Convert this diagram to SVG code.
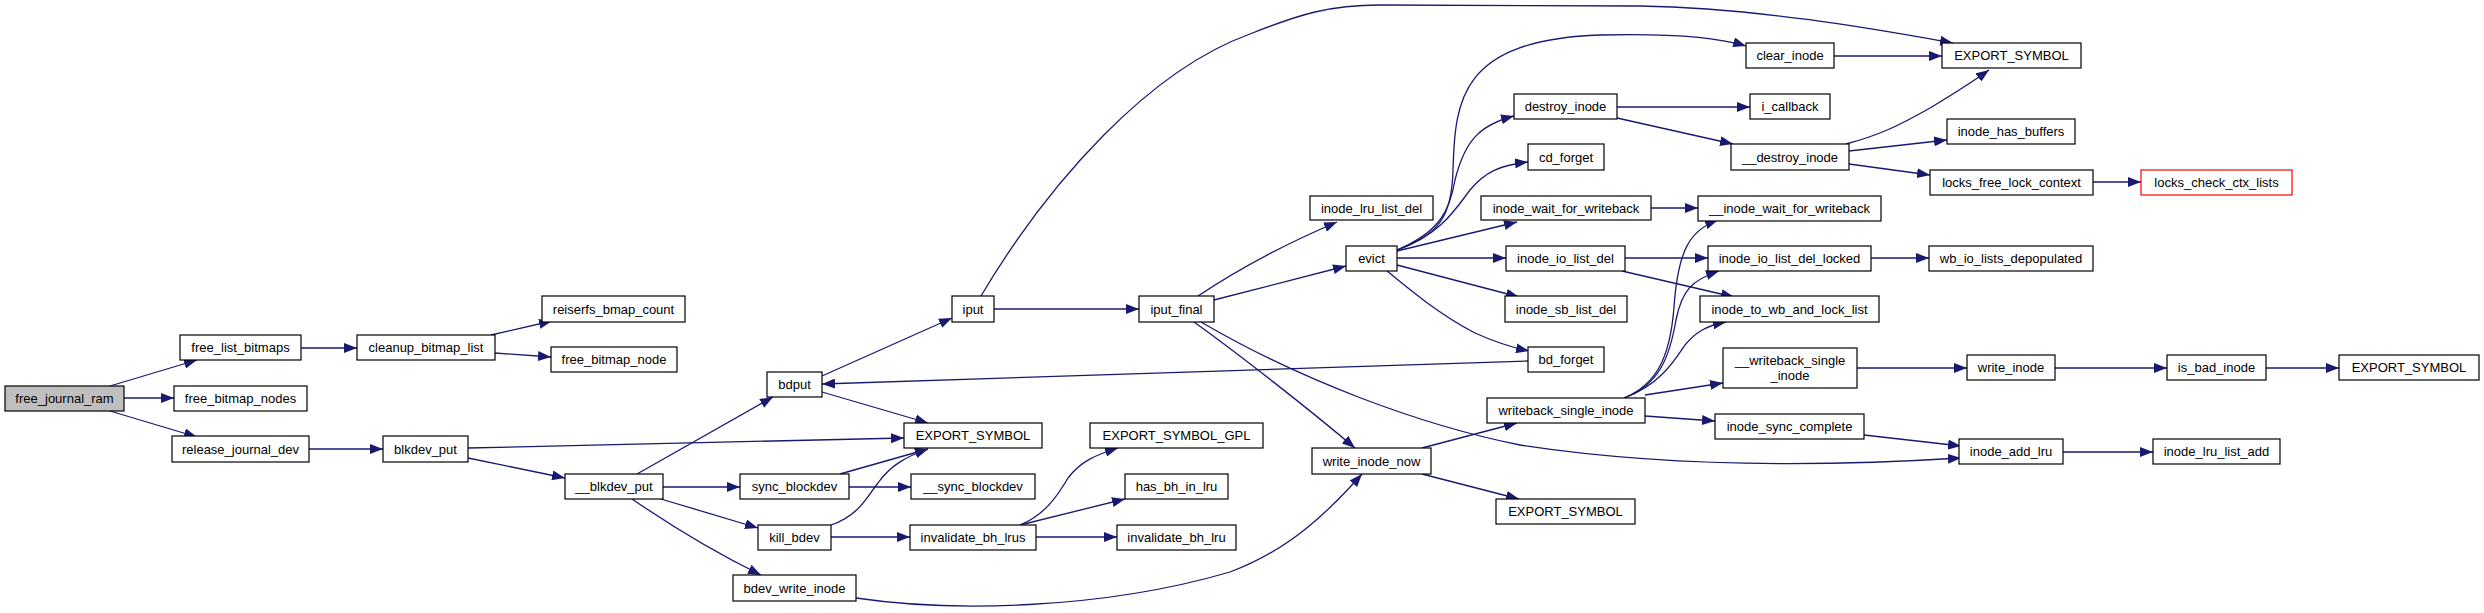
<svg xmlns="http://www.w3.org/2000/svg" width="2484" height="613" viewBox="0 0 2484 613">
<defs>
<marker id="ah" markerUnits="userSpaceOnUse" markerWidth="13" markerHeight="10" refX="13" refY="5" orient="auto">
<path d="M0,0 L13,5 L0,10 z" fill="#191970"/>
</marker>
<style>
.n rect{fill:#fff;stroke:#000;stroke-width:1.2}
.n text{font-family:"Liberation Sans",Arial,sans-serif;font-size:13px;fill:#000;text-anchor:middle}
.e path{fill:none;stroke:#191970;stroke-width:1.3;marker-end:url(#ah)}
</style>
</defs>
<rect x="0" y="0" width="2484" height="613" fill="#fff"/>
<g id="connectors" class="e">
<path d="M110,386 L197,360"/>
<path d="M124,398 L174,398"/>
<path d="M110,411 L197,437"/>
<path d="M301,348 L357,348"/>
<path d="M309,449 L383,449"/>
<path d="M491,335 L552,321"/>
<path d="M495,353 L551,357"/>
<path d="M468,448 L904,438"/>
<path d="M468,458 L565,478"/>
<path d="M637,474 L773,397"/>
<path d="M663,487 L740,487"/>
<path d="M661,499 L758,528"/>
<path d="M632,499 C670,525 720,555 761,575"/>
<path d="M822,376 L952,318"/>
<path d="M822,392 L928,423"/>
<path d="M1528,361 L822,384"/>
<path d="M840,474 L928,449"/>
<path d="M849,487 L911,487"/>
<path d="M831,525 C860,515 868,495 878,483 C890,466 905,457 928,449"/>
<path d="M831,537 L910,537"/>
<path d="M1020,525 C1045,515 1058,495 1068,478 C1080,462 1095,455 1118,448"/>
<path d="M1020,525 L1125,499"/>
<path d="M1036,537 L1117,537"/>
<path d="M856,598 C950,612 1100,610 1230,572 C1290,550 1330,510 1362,474"/>
<path d="M994,309 L1139,309"/>
<path d="M981,296 C1050,180 1150,70 1250,34 C1300,14 1330,5 1380,5 L1640,6 C1760,8 1880,30 1953,43"/>
<path d="M1214,300 L1346,266"/>
<path d="M1198,296 C1240,268 1290,242 1337,222"/>
<path d="M1194,322 C1240,355 1310,410 1355,448"/>
<path d="M1201,322 C1300,380 1420,425 1520,445 C1650,465 1800,468 1961,458"/>
<path d="M1397,250 C1440,235 1452,215 1453,170 C1455,100 1460,40 1600,35 C1680,33 1720,38 1746,46"/>
<path d="M1397,250 C1440,232 1450,210 1455,180 C1465,140 1480,125 1514,116"/>
<path d="M1397,250 C1440,235 1455,210 1470,190 C1485,172 1500,165 1528,162"/>
<path d="M1397,251 L1517,222"/>
<path d="M1397,258 L1506,258"/>
<path d="M1397,265 L1519,297"/>
<path d="M1387,271 C1410,290 1440,315 1475,333 C1495,342 1510,347 1529,351"/>
<path d="M1617,107 L1750,107"/>
<path d="M1617,118 L1733,144"/>
<path d="M1834,56 L1942,56"/>
<path d="M1846,144 C1880,135 1900,125 1930,108 C1955,93 1975,80 1989,70"/>
<path d="M1849,151 L1947,140"/>
<path d="M1849,164 L1930,175"/>
<path d="M2093,182 L2141,182"/>
<path d="M1651,208 L1698,208"/>
<path d="M1625,258 L1708,258"/>
<path d="M1622,271 L1734,297"/>
<path d="M1871,258 L1929,258"/>
<path d="M1624,398 C1655,385 1670,360 1674,307 C1678,250 1690,230 1718,220"/>
<path d="M1624,398 C1660,385 1670,355 1676,320 C1682,290 1692,280 1719,271"/>
<path d="M1624,398 C1660,385 1675,360 1685,345 C1695,333 1705,326 1726,322"/>
<path d="M1645,395 L1723,383"/>
<path d="M1645,416 L1715,421"/>
<path d="M1857,368 L1967,368"/>
<path d="M2055,368 L2167,368"/>
<path d="M2266,368 L2339,368"/>
<path d="M1864,435 L1961,446"/>
<path d="M2063,452 L2153,452"/>
<path d="M1422,448 L1517,423"/>
<path d="M1422,474 L1519,499"/>
</g>
<g id="free_journal_ram" class="n"><rect x="5" y="386" width="119" height="25" style="fill:#bfbfbf"/><text x="64.5" y="403">free_journal_ram</text></g>
<g id="free_list_bitmaps" class="n"><rect x="180" y="335" width="121" height="25"/><text x="240.5" y="352">free_list_bitmaps</text></g>
<g id="free_bitmap_nodes" class="n"><rect x="174" y="386" width="133" height="25"/><text x="240.5" y="403">free_bitmap_nodes</text></g>
<g id="release_journal_dev" class="n"><rect x="172" y="436" width="137" height="26"/><text x="240.5" y="453.5">release_journal_dev</text></g>
<g id="cleanup_bitmap_list" class="n"><rect x="357" y="335" width="138" height="25"/><text x="426" y="352">cleanup_bitmap_list</text></g>
<g id="blkdev_put" class="n"><rect x="383" y="436" width="85" height="26"/><text x="425.5" y="453.5">blkdev_put</text></g>
<g id="reiserfs_bmap_count" class="n"><rect x="542" y="296" width="143" height="26"/><text x="613.5" y="313.5">reiserfs_bmap_count</text></g>
<g id="free_bitmap_node" class="n"><rect x="551" y="347" width="126" height="25"/><text x="614" y="364">free_bitmap_node</text></g>
<g id="bdput" class="n"><rect x="767" y="372" width="55" height="25"/><text x="794.5" y="389">bdput</text></g>
<g id="__blkdev_put" class="n"><rect x="565" y="474" width="98" height="25"/><text x="614" y="491">__blkdev_put</text></g>
<g id="sync_blockdev" class="n"><rect x="740" y="474" width="109" height="25"/><text x="794.5" y="491">sync_blockdev</text></g>
<g id="kill_bdev" class="n"><rect x="758" y="525" width="73" height="25"/><text x="794.5" y="542">kill_bdev</text></g>
<g id="bdev_write_inode" class="n"><rect x="733" y="575" width="123" height="26"/><text x="794.5" y="592.5">bdev_write_inode</text></g>
<g id="iput" class="n"><rect x="952" y="296" width="42" height="26"/><text x="973" y="313.5">iput</text></g>
<g id="iput_final" class="n"><rect x="1139" y="296" width="75" height="26"/><text x="1176.5" y="313.5">iput_final</text></g>
<g id="EXPORT_SYMBOL_1" class="n"><rect x="904" y="423" width="138" height="25"/><text x="973" y="440">EXPORT_SYMBOL</text></g>
<g id="EXPORT_SYMBOL_GPL" class="n"><rect x="1090" y="423" width="173" height="25"/><text x="1176.5" y="440">EXPORT_SYMBOL_GPL</text></g>
<g id="__sync_blockdev" class="n"><rect x="911" y="474" width="124" height="25"/><text x="973" y="491">__sync_blockdev</text></g>
<g id="has_bh_in_lru" class="n"><rect x="1125" y="474" width="103" height="25"/><text x="1176.5" y="491">has_bh_in_lru</text></g>
<g id="invalidate_bh_lrus" class="n"><rect x="910" y="525" width="126" height="25"/><text x="973" y="542">invalidate_bh_lrus</text></g>
<g id="invalidate_bh_lru" class="n"><rect x="1117" y="525" width="119" height="25"/><text x="1176.5" y="542">invalidate_bh_lru</text></g>
<g id="destroy_inode" class="n"><rect x="1514" y="94" width="103" height="25"/><text x="1565.5" y="111">destroy_inode</text></g>
<g id="cd_forget" class="n"><rect x="1528" y="144" width="76" height="26"/><text x="1566" y="161.5">cd_forget</text></g>
<g id="inode_lru_list_del" class="n"><rect x="1310" y="196" width="123" height="24"/><text x="1371.5" y="212.5">inode_lru_list_del</text></g>
<g id="inode_wait_for_writeback" class="n"><rect x="1481" y="196" width="170" height="24"/><text x="1566" y="212.5">inode_wait_for_writeback</text></g>
<g id="evict" class="n"><rect x="1346" y="246" width="51" height="25"/><text x="1371.5" y="263">evict</text></g>
<g id="inode_io_list_del" class="n"><rect x="1506" y="246" width="119" height="25"/><text x="1565.5" y="263">inode_io_list_del</text></g>
<g id="inode_sb_list_del" class="n"><rect x="1505" y="296" width="122" height="26"/><text x="1566" y="313.5">inode_sb_list_del</text></g>
<g id="bd_forget" class="n"><rect x="1528" y="347" width="76" height="25"/><text x="1566" y="364">bd_forget</text></g>
<g id="writeback_single_inode" class="n"><rect x="1487" y="398" width="158" height="25"/><text x="1566" y="415">writeback_single_inode</text></g>
<g id="write_inode_now" class="n"><rect x="1312" y="448" width="119" height="26"/><text x="1371.5" y="465.5">write_inode_now</text></g>
<g id="EXPORT_SYMBOL_3" class="n"><rect x="1496" y="499" width="139" height="25"/><text x="1565.5" y="516">EXPORT_SYMBOL</text></g>
<g id="clear_inode" class="n"><rect x="1746" y="43" width="88" height="25"/><text x="1790" y="60">clear_inode</text></g>
<g id="EXPORT_SYMBOL_0" class="n"><rect x="1942" y="43" width="139" height="25"/><text x="2011.5" y="60">EXPORT_SYMBOL</text></g>
<g id="i_callback" class="n"><rect x="1750" y="94" width="80" height="25"/><text x="1790" y="111">i_callback</text></g>
<g id="inode_has_buffers" class="n"><rect x="1947" y="119" width="128" height="25"/><text x="2011" y="136">inode_has_buffers</text></g>
<g id="__destroy_inode" class="n"><rect x="1731" y="144" width="118" height="26"/><text x="1790" y="161.5">__destroy_inode</text></g>
<g id="locks_free_lock_context" class="n"><rect x="1930" y="170" width="163" height="25"/><text x="2011.5" y="187">locks_free_lock_context</text></g>
<g id="locks_check_ctx_lists" class="n"><rect x="2141" y="170" width="151" height="25" style="stroke:#ff0000"/><text x="2216.5" y="187">locks_check_ctx_lists</text></g>
<g id="__inode_wait_for_writeback" class="n"><rect x="1698" y="196" width="183" height="25"/><text x="1789.5" y="213">__inode_wait_for_writeback</text></g>
<g id="inode_io_list_del_locked" class="n"><rect x="1708" y="246" width="163" height="25"/><text x="1789.5" y="263">inode_io_list_del_locked</text></g>
<g id="wb_io_lists_depopulated" class="n"><rect x="1929" y="246" width="164" height="25"/><text x="2011" y="263">wb_io_lists_depopulated</text></g>
<g id="inode_to_wb_and_lock_list" class="n"><rect x="1700" y="296" width="179" height="26"/><text x="1789.5" y="313.5">inode_to_wb_and_lock_list</text></g>
<g id="__writeback_single_inode" class="n"><rect x="1723" y="348" width="134" height="40"/><text x="1790" y="364.5">__writeback_single</text><text x="1790" y="379.5">_inode</text></g>
<g id="write_inode" class="n"><rect x="1967" y="355" width="88" height="25"/><text x="2011" y="372">write_inode</text></g>
<g id="inode_sync_complete" class="n"><rect x="1715" y="414" width="149" height="25"/><text x="1789.5" y="431">inode_sync_complete</text></g>
<g id="inode_add_lru" class="n"><rect x="1959" y="439" width="104" height="25"/><text x="2011" y="456">inode_add_lru</text></g>
<g id="is_bad_inode" class="n"><rect x="2167" y="355" width="99" height="25"/><text x="2216.5" y="372">is_bad_inode</text></g>
<g id="EXPORT_SYMBOL_4" class="n"><rect x="2339" y="355" width="140" height="25"/><text x="2409" y="372">EXPORT_SYMBOL</text></g>
<g id="inode_lru_list_add" class="n"><rect x="2153" y="439" width="127" height="25"/><text x="2216.5" y="456">inode_lru_list_add</text></g>
</svg>
